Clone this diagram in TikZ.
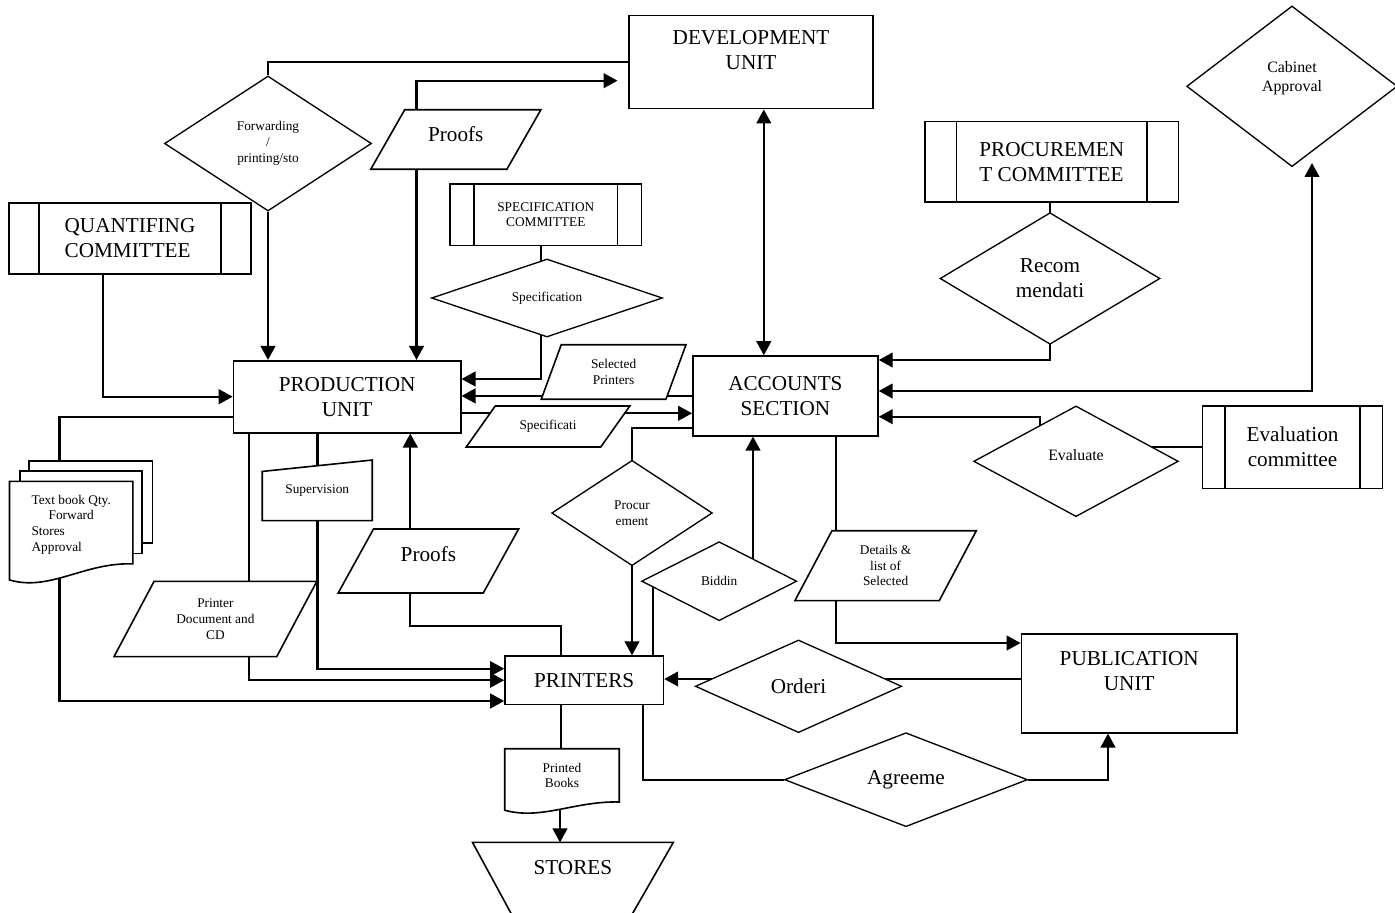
\documentclass[tikz,border=0pt]{standalone}
\usepackage{fontspec}
\setmainfont{Liberation Serif}
\usetikzlibrary{shapes.geometric,arrows.meta,calc}
\pgfdeclarelayer{bg}
\pgfdeclarelayer{shp}
\pgfsetlayers{bg,shp,main}
\newcommand\pgram[2]{\path[shapeline] (#1.south west) -- ($(#1.north west)+(#2,0)$) -- (#1.north east) -- ($(#1.south east)+(-#2,0)$) -- cycle;}
\begin{document}
\begin{tikzpicture}[x=0.75pt,y=-0.75pt,
  fbig/.style={font=\fontsize{15.9}{18.8}\selectfont},
  fmid/.style={font=\fontsize{11.9}{14.5}\selectfont},
  fsml/.style={font=\fontsize{10}{11.8}\selectfont},
  ubox/.style={draw, rectangle, line width=1.2pt, fill=white, inner sep=0pt, align=center},
  procbox/.style={ubox, path picture={
      \draw[line width=1.2pt] ([xshift=#1]path picture bounding box.north west) -- ([xshift=#1]path picture bounding box.south west);
      \draw[line width=1.2pt] ([xshift=-#1]path picture bounding box.north east) -- ([xshift=-#1]path picture bounding box.south east);}},
  dia/.style={draw, diamond, line width=1pt, fill=white, inner sep=0pt, align=center},
  lbl/.style={inner sep=0pt, align=center},
  shapeline/.style={draw, line width=1.2pt, fill=white},
  conn/.style={line width=1.65pt},
  arr/.style={conn, -{Triangle[length=10.5pt,width=11pt]}},
  arr2/.style={conn, {Triangle[length=10.5pt,width=11pt]}-{Triangle[length=10.5pt,width=11pt]}}]
\useasboundingbox (0,0) rectangle (1395,913);

% units and committees
\node[ubox,fbig,minimum width=183pt,minimum height=69.75pt] (dev) at (751,62.2) {DEVELOPMENT\\UNIT\\\mbox{}};
\node[ubox,fbig,minimum width=170.4pt,minimum height=54pt] (prod) at (347.1,396.7) {PRODUCTION\\UNIT};
\node[ubox,fbig,minimum width=138.8pt,minimum height=59.8pt] (acc) at (785.4,395.9) {ACCOUNTS\\SECTION};
\node[ubox,fbig,minimum width=118.8pt,minimum height=36.2pt] (printers) at (584.2,680.2) {PRINTERS};
\node[ubox,fbig,minimum width=161.7pt,minimum height=74pt] (pub) at (1129.2,683.4) {PUBLICATION\\UNIT\\\mbox{}};
\node[procbox=22.5pt,fbig,align=left,minimum width=181.5pt,minimum height=53.25pt] (quant) at (130,238.5) {QUANTIFING\\COMMITTEE};
\node[procbox=18pt,fsml,minimum width=143.6pt,minimum height=46pt] (specc) at (545.8,214.7) {SPECIFICATION\\COMMITTEE};
\node[procbox=23.6pt,fbig,align=left,minimum width=190.2pt,minimum height=60.5pt] (procc) at (1051.8,161.7) {PROCUREMEN\\T COMMITTEE};
\node[procbox=17pt,fbig,minimum width=135.1pt,minimum height=61.7pt] (evalc) at (1292.5,447.2) {Evaluation\\committee};

% decisions
\node[dia,fsml,shape aspect=1.53,minimum width=155.25pt,minimum height=101.25pt] (fwd) at (268,143.5) {Forwarding\\/\\printing/sto};
\node[dia,fsml,shape aspect=2.96,minimum width=173.25pt,minimum height=58.5pt] (specd) at (547,298) {Specification};
\node[dia,fbig,shape aspect=1.67,minimum width=165pt,minimum height=98.7pt] (recom) at (1050,278.5) {Recom\\mendati};
\node[dia,fmid,shape aspect=1.31,minimum width=158pt,minimum height=120.5pt] (cab) at (1292,86.3) {Cabinet\\Approval\\\mbox{}};
\node[dia,fmid,shape aspect=1.85,text depth=9pt,minimum width=153.5pt,minimum height=83pt] (eval) at (1076,461.3) {Evaluate};
\node[dia,fsml,shape aspect=1.52,minimum width=120.5pt,minimum height=79pt] (proc) at (632,513) {Procur\\ement};
\node[dia,fsml,shape aspect=1.96,minimum width=116.4pt,minimum height=59.25pt] (bid) at (719.2,581.2) {Biddin};
\node[dia,fbig,shape aspect=2.23,minimum width=154.8pt,minimum height=69.5pt] (orderi) at (798.5,686.3) {Orderi};
\node[dia,fbig,shape aspect=2.59,minimum width=182.25pt,minimum height=70.5pt] (agree) at (906,779.7) {Agreeme};

% data, document and store texts
\node[lbl,fbig,text depth=8.2pt,minimum width=127.2pt,minimum height=44.25pt] (proofs1) at (455.8,139.5) {Proofs};
\node[lbl,fsml,minimum width=108.15pt,minimum height=40.5pt] (selp) at (613.6,372) {Selected\\Printers};
\node[lbl,fsml,minimum width=122.25pt,minimum height=30.3pt] (specp) at (548,426.5) {Specificati};
\node[lbl,fbig,text depth=11pt,minimum width=134.9pt,minimum height=47.55pt] (proofs2) at (428.4,561) {Proofs};
\node[lbl,fsml,minimum width=151.65pt,minimum height=55.95pt] (printdoc) at (215.4,619) {Printer\\Document and\\CD};
\node[lbl,fsml,minimum width=135.6pt,minimum height=52pt] (details) at (885.6,565.7) {Details \&\\list of\\Selected};
\node[lbl,fsml,minimum width=82.1pt,minimum height=45pt] (sup) at (317.25,490.3) {Supervision};
\node[lbl,fsml,minimum width=92.1pt,minimum height=64.3pt] (tb) at (71.2,524.5)
  {\begin{tabular}{@{}l@{}}\multicolumn{1}{@{}c@{}}{Text book Qty.}\\\multicolumn{1}{@{}c@{}}{Forward}\\Stores\\Approval\end{tabular}};
\node[lbl,fsml,minimum width=85.5pt,minimum height=39.75pt] (books) at (562,775.5) {Printed\\Books};
\node[lbl,fbig,minimum width=150.15pt,minimum height=36.9pt] (stores) at (572.9,867.3) {STORES};

\begin{pgfonlayer}{shp}
  \pgram{proofs1}{34}
  \pgram{selp}{20}
  \pgram{specp}{29}
  \pgram{proofs2}{35.3}
  \pgram{printdoc}{40}
  \pgram{details}{37}
  % manual input
  \path[shapeline] (sup.south west) -- ($(sup.north west)+(0,11.4)$) -- (sup.north east) -- (sup.south east) -- cycle;
  % stacked documents
  \path[shapeline] ($(tb.north west)+(19.7,-20.3)$) rectangle ($(tb.north east)+(19.5,61.5)$);
  \path[shapeline] ($(tb.north west)+(10.2,-10.3)$) rectangle ($(tb.north east)+(9.4,72)$);
  \path[shapeline] (tb.north west) -- ($(tb.south west)+(0,12.3)$) .. controls +(40,12) and +(-48,-2) .. ($(tb.south east)+(0,-3.7)$) -- (tb.north east) -- cycle;
  % printed books document
  \path[shapeline] (books.north west) -- ($(books.south west)+(0,8)$) .. controls +(37,10) and +(-45,-1) .. ($(books.south east)+(0,-0.3)$) -- (books.north east) -- cycle;
  % stores
  \path[shapeline] (stores.north west) -- (stores.north east) -- ($(stores.north east)+(-50,87.3)$) -- ($(stores.north west)+(47.4,87.3)$) -- cycle;
\end{pgfonlayer}

\begin{pgfonlayer}{bg}
  \coordinate (cabin) at (1312,163);
  \draw[conn] (fwd.north) |- (dev.west);
  \draw[arr] (fwd.south) -- (fwd.south |- prod.north);
  \draw[arr,shorten >=8pt] (416.5,0 |- proofs1.north) |- (dev.west |- 0,80.7);
  \draw[arr] (416.5,0 |- proofs1.south) -- (416.5,0 |- prod.north);
  \draw[arr] (103,0 |- quant.south) |- (prod.west);
  \draw[conn] (540.6,0 |- specc.south) -- (540.6,0 |- specd.center);
  \draw[arr] (540.6,0 |- specd.center) |- (prod.east |- 0,379);
  \draw[arr] (acc.west) -- (prod.east |- acc.west);
  \draw[arr] (prod.east |- 0,413.3) -- (acc.west |- 0,413.3);
  \draw[arr2] (763.8,0 |- dev.south) -- (763.8,0 |- acc.north);
  \draw[conn] (recom.north |- procc.south) -- (recom.center);
  \draw[arr] (recom.center) |- (acc.east |- 0,360);
  \draw[arr2] (acc.east |- 0,391) -| (cabin);
  \draw[arr] (1040,0 |- eval.center) |- (acc.east |- 0,416.7);
  \draw[conn] (evalc.west) -- (eval.center |- evalc.west);
  \draw[conn] (acc.west |- 0,428.3) -| (proc.center);
  \draw[arr] (proc.center) -- (proc.center |- printers.north);
  \draw[arr] (753,0 |- bid.center) -- (753,0 |- acc.south);
  \draw[conn] (653,0 |- bid.center) -- (653,0 |- printers.north);
  \draw[conn] (835.8,0 |- acc.south) -- (835.8,0 |- details.north);
  \draw[arr] (835.8,0 |- details.south) |- (pub.west |- 0,643);
  \draw[arr] (pub.west |- 0,679) -- (printers.east |- 0,679);
  \draw[conn] (643.3,0 |- printers.south) |- (agree.west);
  \draw[arr] (agree.east) -| (1108,0 |- pub.south);
  \draw[conn] (prod.west |- 0,416.7) -| (59.4,0 |- tb.center);
  \draw[arr] (59.4,0 |- tb.center) |- (printers.west |- 0,701);
  \draw[conn] (249,0 |- prod.south) -- (249,0 |- printdoc.north);
  \draw[arr] (249,0 |- printdoc.south) |- (printers.west);
  \draw[conn] (317.4,0 |- prod.south) -- (317.4,0 |- sup.center);
  \draw[arr] (317.4,0 |- sup.south) |- (printers.west |- 0,668.7);
  \draw[arr] (410.3,0 |- proofs2.north) -- (410.3,0 |- prod.south);
  \draw[conn] (410.3,0 |- proofs2.south) -- (410.3,625.7) -| (561,0 |- printers.north);
  \draw[conn] (561,0 |- printers.south) -- (561,0 |- books.center);
  \draw[arr] (560,0 |- books.center) -- (560,0 |- stores.north);
\end{pgfonlayer}
\end{tikzpicture}
\end{document}
